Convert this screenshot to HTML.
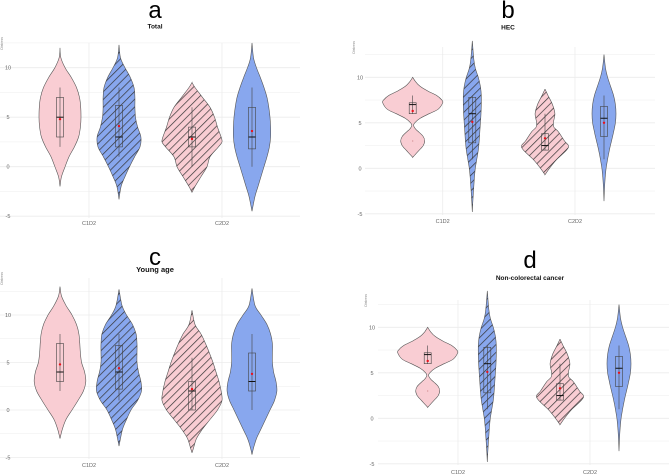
<!DOCTYPE html>
<html><head><meta charset="utf-8">
<style>
html,body{margin:0;padding:0;background:#fff;}
svg{display:block;font-family:"Liberation Sans",sans-serif;}
</style></head>
<body>
<svg id="chart" width="669" height="475" viewBox="0 0 669 475">
<defs>
<pattern id="hatch" patternUnits="userSpaceOnUse" width="5.5" height="5.5" patternTransform="rotate(45)">
<line x1="0" y1="0" x2="0" y2="5.5" stroke="#333" stroke-width="1.4"/>
</pattern>
</defs>
</svg>
<script>
// ---- data ----
const categories = ["C1D2", "C2D2"];
const yTicks = [-5, 0, 5, 10];
const panelLetters = ["a", "b", "c", "d"];
const panelTitles = ["Total", "HEC", "Young age", "Non-colorectal cancer"];
// violin density profiles: [y, relative density]
const aPink1 = [[12,0],[11,.03],[10,.17],[9,.38],[8,.55],[7,.65],[6,.69],[5,.7],[4,.68],[3,.62],[2,.48],[1,.3],[0,.17],[-1,.05],[-2,0]];
const aBlue1 = [[12.3,0],[11,.05],[10,.2],[9,.38],[8,.5],[7,.53],[6,.53],[5,.55],[4,.62],[3,.73],[2,.7],[1,.52],[0,.35],[-1,.2],[-2,.07],[-3.3,0]];
const aPink2 = [[8.5,0],[8,.1],[7,.35],[6,.6],[5,.75],[4,.85],[3,.97],[2.5,1],[2,.88],[1,.6],[0,.5],[-1,.3],[-2,.1],[-2.6,0]];
const aBlue2 = [[12.5,0],[11,.05],[10,.15],[9,.28],[8,.4],[7,.5],[6,.56],[5,.6],[4,.62],[3,.62],[2,.58],[1,.5],[0,.4],[-1,.3],[-2,.2],[-3,.1],[-4.5,0]];
const bPink1 = [[10,0],[9.5,.1],[9,.25],[8.5,.5],[8,.8],[7.5,.97],[7.2,1],[6.5,.85],[6,.55],[5.5,.25],[5,.07],[4.7,.03],[4.3,.1],[4,.2],[3.5,.35],[3,.4],[2.5,.35],[2,.22],[1.5,.08],[1.2,0]];
const bBlue1 = [[14,0],[12,.05],[11,.1],[10,.2],[9,.27],[8,.3],[7,.3],[6,.29],[5,.27],[4,.25],[3,.23],[2,.2],[1,.15],[0,.1],[-1,.07],[-2,.05],[-3,.03],[-4.8,0]];
const bPink2 = [[8.7,0],[8,.1],[7,.25],[6,.33],[5,.28],[4.5,.3],[4,.45],[3,.65],[2.5,.78],[2,.72],[1,.4],[0,.15],[-0.7,0]];
const bBlue2 = [[12.5,0],[11,.05],[10,.12],[9,.22],[8,.32],[7,.38],[6,.4],[5,.38],[4,.32],[3,.25],[2,.18],[1,.12],[0,.07],[-1,.04],[-2,.02],[-3.6,0]];
const cPink1 = [[13,0],[12,.05],[11,.2],[10,.4],[9,.55],[8,.63],[7,.66],[6,.68],[5,.72],[4,.82],[3,.86],[2,.78],[1,.6],[0,.4],[-1,.2],[-2,.08],[-3,0]];
const cBlue1 = [[12.7,0],[11,.1],[10,.25],[9,.45],[8,.57],[7,.6],[6,.6],[5,.6],[4,.65],[3,.73],[2,.75],[1,.62],[0,.4],[-1,.25],[-2,.12],[-3,.05],[-3.8,0]];
const cPink2 = [[10.5,0],[9,.1],[8,.3],[7,.45],[6,.58],[5,.7],[4,.8],[3,.9],[2,.97],[1,1],[0,.85],[-1,.6],[-2,.35],[-3,.15],[-4,.05],[-4.5,0]];
const cBlue2 = [[12.8,0],[11,.1],[10,.3],[9,.5],[8,.62],[7,.68],[6,.68],[5,.68],[4,.72],[3,.8],[2,.83],[1,.75],[0,.6],[-1,.45],[-2,.3],[-3,.15],[-4,.05],[-4.7,0]];
// box stats: [whiskerLow, q1, median, q3, whiskerHigh, mean]
const aBoxes = [[2,3,5,7,8,4.8],[1,2,3,6.2,8,4.1],[0,2,3,4,6,2.8],[0,1.8,3,6,8,3.6]];
const bBoxes = [[6,6,7,7.2,8,6.3],[1,2.8,6,7.8,8,5.1],[2,2,2.5,3.8,6,3.3],[1,3.5,5.5,6.8,8,5]];
const cBoxes = [[2,3,4,7,8,4.8],[1,2.2,4,6.8,8,4.4],[0,0,2,3,5.5,2.2],[0,2,3,6,8,3.8]];
const dBoxes = [[6,6,7,7.2,8,6.3],[1,2.8,6,7.8,8,5.1],[2,2,2.5,3.8,6,3.3],[1,3.5,5.5,6.8,8,5]];
const outliersB = [3];
const outliersD = [3];

// ---- layout ----
const panels = [
 {y10:67.7,y0:166.7,gx0:0,gx1:300,gy0:43,gy1:218,cat:[89,222],cx:[60,119,192,252],tickX:8,lx:155,ly:18,sy:28.5,
  v:[aPink1,aBlue1,aPink2,aBlue2],box:aBoxes,out:[],catY:225},
 {y10:77.3,y0:168.3,gx0:365,gx1:655,gy0:47,gy1:215,cat:[442.7,575],cx:[412.7,472.3,545,604],tickX:360,lx:508,ly:18,sy:29.5,
  v:[bPink1,bBlue1,bPink2,bBlue2],box:bBoxes,out:outliersB,catY:223},
 {y10:315,y0:410,gx0:0,gx1:300,gy0:278,gy1:459,cat:[89,222],cx:[60,119,192,252],tickX:8,lx:155,ly:265,sy:272,
  v:[cPink1,cBlue1,cPink2,cBlue2],box:cBoxes,out:[],catY:467},
 {y10:327.3,y0:418.3,gx0:378,gx1:669,gy0:300,gy1:465,cat:[458,590],cx:[427.7,487.3,560,619],tickX:372,lx:530,ly:268,sy:280,
  v:[bPink1,bBlue1,bPink2,bBlue2],box:dBoxes,out:outliersD,catY:474}
];
const svg = document.getElementById('chart');
const NS = 'http://www.w3.org/2000/svg';
function mk(tag, attrs, parent){const e=document.createElementNS(NS,tag);for(const k in attrs)e.setAttribute(k,attrs[k]);(parent||svg).appendChild(e);return e;}
const S = 30;
function smooth(pts){
  let d='M'+pts[0][0]+','+pts[0][1];
  for(let i=0;i<pts.length-1;i++){
    const p0=pts[Math.max(i-1,0)],p1=pts[i],p2=pts[i+1],p3=pts[Math.min(i+2,pts.length-1)];
    const c1=[p1[0]+(p2[0]-p0[0])/6,p1[1]+(p2[1]-p0[1])/6];
    const c2=[p2[0]-(p3[0]-p1[0])/6,p2[1]-(p3[1]-p1[1])/6];
    d+=' C'+c1[0].toFixed(1)+','+c1[1].toFixed(1)+' '+c2[0].toFixed(1)+','+c2[1].toFixed(1)+' '+p2[0].toFixed(1)+','+p2[1].toFixed(1);
  }
  return d;
}
const fills=['#f9cdd3','#88a7ee','#f9cdd3','#88a7ee'];
panels.forEach((p,pi)=>{
  const g=mk('g',{});
  
  
  const ys=v=>p.y0+(p.y10-p.y0)*v/10;
  for(let v=-5;v<=12.5;v+=2.5){
    const y=ys(v); if(y<p.gy0-1) continue;
    const l=mk('line',{x1:p.gx0,x2:p.gx1,y1:y,y2:y,stroke:'#ececec','stroke-width':yTicks.includes(v)?0.8:0.5},g);
    
    
  }
  p.cat.forEach((x,ci)=>{
    const l=mk('line',{x1:x,x2:x,y1:p.gy0,y2:p.gy1,stroke:'#ececec','stroke-width':0.8},g);
    
    
    const t=mk('text',{x:x,y:p.catY,'font-size':5.5,fill:'#666','text-anchor':'middle'},g);
    t.textContent=categories[ci];
    
    
  });
  yTicks.forEach(v=>{
    const t=mk('text',{x:p.tickX,y:ys(v)+2,'font-size':5.5,fill:'#666','text-anchor':'middle'},g);
    t.textContent=v;
    
    
  });
  const at=mk('text',{x:0,y:0,'font-size':3.5,fill:'#888','text-anchor':'end',transform:'translate('+(p.tickX-5)+','+(p.gy0-6)+') rotate(-90)'},g);
  at.textContent='Distress';
  
  
  const L=mk('text',{x:p.lx,y:p.ly,'font-size':24,fill:'#000','text-anchor':'middle'},g);
  L.textContent=panelLetters[pi];
  
  
  const T=mk('text',{x:p.lx,y:p.sy,'font-size':pi==2?7.5:6.5,'font-weight':'bold',fill:'#111','text-anchor':'middle'},g);
  T.textContent=panelTitles[pi];
  
  
  p.v.forEach((prof,vi)=>{
    const cx=p.cx[vi];
    const right=prof.map(d=>[cx+d[1]*S,ys(d[0])]);
    const left=prof.slice().reverse().map(d=>[cx-d[1]*S,ys(d[0])]);
    const d=smooth(right)+' L'+smooth(left).slice(1)+' Z';
    const path=mk('path',{d:d,fill:fills[vi],stroke:'#555','stroke-width':0.6},g);
    
    
    if(vi==1 || vi==2){
      const h=mk('path',{d:d,fill:'url(#hatch)',stroke:'none'},g);
      
      
    }
    const b=p.box[vi];
    const w=mk('line',{x1:cx,x2:cx,y1:ys(b[0]),y2:ys(b[4]),stroke:'#444','stroke-width':0.6},g);
    
    
    const r=mk('rect',{x:cx-3.5,y:ys(b[3]),width:7,height:ys(b[1])-ys(b[3]),fill:'none',stroke:'#444','stroke-width':0.6},g);
    
    
    const m=mk('line',{x1:cx-3.5,x2:cx+3.5,y1:ys(b[2]),y2:ys(b[2]),stroke:'#111','stroke-width':1},g);
    
    
    const mn=mk('circle',{cx:cx,cy:ys(b[5]),r:1.2,fill:'#e8111b'},g);
    
    
  });
  p.out.forEach(v=>{
    const o=mk('circle',{cx:p.cx[0],cy:ys(v),r:0.6,fill:'#c88'},g);
    
    
  });
});
</script>
</body></html>
